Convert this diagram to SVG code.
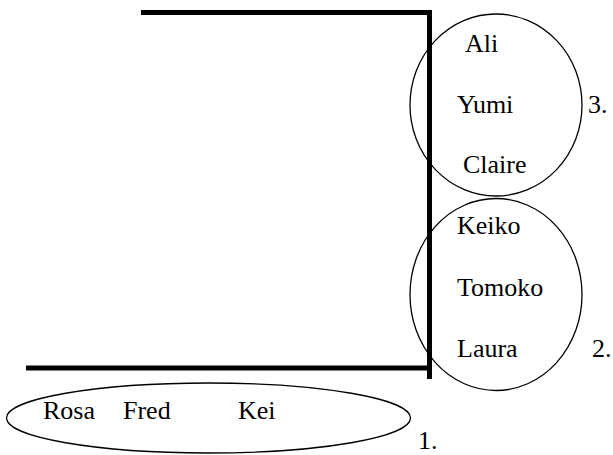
<svg xmlns="http://www.w3.org/2000/svg" width="613" height="455" viewBox="0 0 613 455">
<style>
.t{font-family:"Liberation Serif","Times New Roman",serif;font-size:26px;fill:#000}
.e{fill:none;stroke:#000;stroke-width:1.3}
.l{fill:none;stroke:#000;stroke-width:5}
</style>
<rect width="613" height="455" fill="#fff"/>
<g id="connectors">
<polyline class="l" points="141,12.5 429.5,12.5 429.5,379"/>
<line class="l" x1="26" y1="368" x2="429.5" y2="368"/>
</g>
<g id="group3">
<ellipse class="e" cx="496" cy="105" rx="86" ry="91"/>
<text class="t" x="465" y="52">Ali</text>
<text class="t" x="457" y="113">Yumi</text>
<text class="t" x="463" y="173">Claire</text>
<text class="t" x="588" y="113">3.</text>
</g>
<g id="group2">
<ellipse class="e" cx="496" cy="294.5" rx="86" ry="96"/>
<text class="t" x="457" y="234">Keiko</text>
<text class="t" x="457" y="296">Tomoko</text>
<text class="t" x="457" y="357">Laura</text>
<text class="t" x="592" y="357">2.</text>
</g>
<g id="group1">
<ellipse class="e" cx="208.5" cy="418" rx="202" ry="35"/>
<text class="t" x="43" y="419">Rosa</text>
<text class="t" x="123" y="419">Fred</text>
<text class="t" x="238" y="419">Kei</text>
<text class="t" x="418" y="449">1.</text>
</g>
</svg>
